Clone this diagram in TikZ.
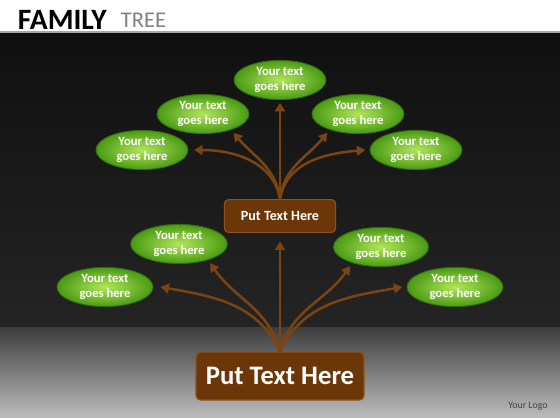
\documentclass[tikz,border=0pt]{standalone}
\usepackage{fontspec}
\setmainfont{Carlito}
\usepackage{tikz}
\usetikzlibrary{arrows.meta,shapes.geometric}
\usepackage{xcolor}
\definecolor{BranchBrown}{HTML}{7A4413}
\definecolor{TrunkBrown}{HTML}{6B3709}
\definecolor{TrunkEdge}{HTML}{8E5420}
\definecolor{LeafLight}{HTML}{B2E65A}
\definecolor{LeafDark}{HTML}{4A9A14}
\definecolor{LeafEdge}{HTML}{2F6E0A}
\definecolor{NightTop}{HTML}{101010}
\definecolor{NightBottom}{HTML}{242424}
\definecolor{GroundTop}{HTML}{3E3E3E}
\definecolor{GroundBottom}{HTML}{BDBDBD}

\tikzset{
  leaf/.style={ellipse,draw=LeafEdge,line width=0.6pt,inner color=LeafLight,outer color=LeafDark,
    minimum width=2.3cm,minimum height=0.98cm,inner sep=0pt,align=center,
    text=white,font=\fontsize{9}{10.5}\selectfont\bfseries},
  trunk/.style={rounded corners=3pt,draw=TrunkEdge,line width=0.8pt,fill=TrunkBrown,
    text=white,font=\bfseries,inner sep=0pt},
  branch/.style={draw=BranchBrown,line width=1.8pt,-{Triangle[width=7pt,length=6pt]}}
}

\begin{document}
\begin{tikzpicture}[x=0.025cm,y=0.025cm]
    \useasboundingbox (0,0) rectangle (560,420);
    \fill[white] (0,0) rectangle (560,420);
    \shade[top color=NightTop,bottom color=NightBottom] (0,92) rectangle (560,388);
    \draw[gray!70,line width=0.8pt] (0,388) -- (560,388);
    \shade[top color=GroundTop,bottom color=GroundBottom] (0,2) rectangle (560,92);

    \node[anchor=west,font=\fontsize{21}{21}\selectfont\bfseries] (family) at (13,400) {FAMILY};
    \node[anchor=west,text=gray,font=\fontsize{16}{16}\selectfont] (tree) at (116,400) {TREE};

    \node[trunk,minimum width=4.2cm,minimum height=1.2cm,font=\fontsize{19}{19}\selectfont\bfseries] (root) at (280,44) {Put Text Here};
    \node[trunk,minimum width=2.78cm,minimum height=0.82cm,font=\fontsize{10}{10}\selectfont\bfseries] (stem) at (280,204) {Put Text Here};

    \node[leaf] (top) at (280,340) {Your text\\goes here};
    \node[leaf] (upleftB) at (203,306) {Your text\\goes here};
    \node[leaf] (uprightB) at (358,306) {Your text\\goes here};
    \node[leaf] (upleftA) at (142,270) {Your text\\goes here};
    \node[leaf] (uprightA) at (416,270) {Your text\\goes here};

    \node[leaf,minimum width=2.42cm] (lowleftB) at (179,176) {Your text\\goes here};
    \node[leaf,minimum width=2.38cm] (lowrightB) at (381,173) {Your text\\goes here};
    \node[leaf,minimum width=2.4cm] (lowleftA) at (105,133) {Your text\\goes here};
    \node[leaf,minimum width=2.4cm] (lowrightA) at (455,133) {Your text\\goes here};

    \draw[branch] (stem.north) to[out=100,in=0] ([xshift=4pt]upleftA.east);
    \draw[branch] (stem.north) to[out=97,in=-50] ([shift={(2pt,-2pt)}]upleftB.-30);
    \draw[branch] (stem.north) -- ([yshift=-2pt]top.south);
    \draw[branch] (stem.north) to[out=83,in=230] ([shift={(-2pt,-2pt)}]uprightB.-150);
    \draw[branch] (stem.north) to[out=80,in=185] ([xshift=-3pt]uprightA.west);

    \draw[branch] (root.north) to[out=115,in=-10] ([xshift=5pt]lowleftA.east);
    \draw[branch] (root.north) to[out=105,in=-55] ([shift={(2pt,-2pt)}]lowleftB.-30);
    \draw[branch] (root.north) -- ([yshift=-6pt]stem.south);
    \draw[branch] (root.north) to[out=75,in=235] ([shift={(-2pt,-2pt)}]lowrightB.-150);
    \draw[branch] (root.north) to[out=65,in=190] ([xshift=-3pt]lowrightA.west);

    \node[text=black!75,font=\fontsize{7}{7}\selectfont] (logo) at (528,14) {Your Logo};
\end{tikzpicture}
\end{document}
